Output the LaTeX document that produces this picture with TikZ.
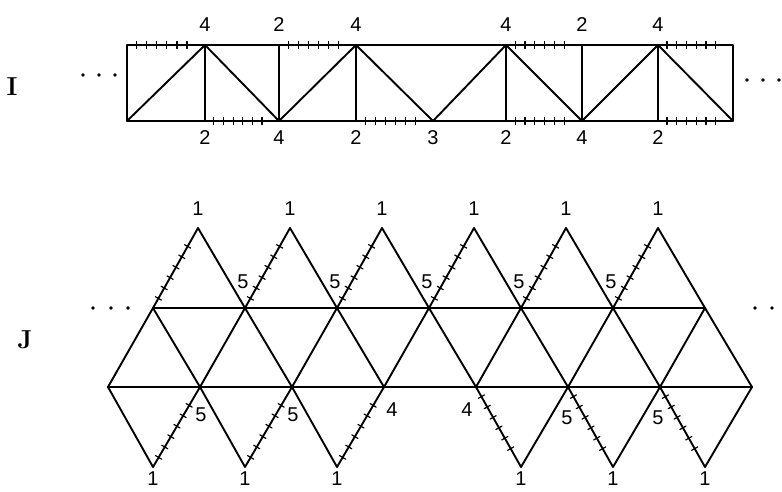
\documentclass[tikz,border=0pt]{standalone}
\usepackage{fontspec}
\setsansfont{Liberation Sans}
\usetikzlibrary{calc,decorations.markings}
\tikzset{
    lab/.style={
        font=\sffamily\fontsize{20}{24}\selectfont, inner sep=0pt
    },
    side/.style={
        font=\bfseries\fontsize{26}{32}\selectfont, inner sep=0pt
    },
    tickedge/.style={
        postaction={decorate},
        decoration={markings,
            mark=between positions 0.12 and 0.9 step 0.13 with
            {\draw[line width=1.2pt] (0,-3.5pt) -- (0,3.5pt);}}
    }
}

\begin{document}
\begin{tikzpicture}[x=1pt,y=-1pt,line width=1.9pt,line cap=round,line join=round]
    \useasboundingbox (0,0) rectangle (782,491);

% --- geometry (pixel grid of the reference) ---
    \def\yT{45}                  % top edge of strip I
    \def\yB{121}                 % bottom edge of strip I
    \def\dJ{92}                  % side of a triangle in J

% strip I: corners of the cells
    \foreach \x [count=\i from 0] in {127,205,279,356,433,506,582,658,733} {
        \coordinate (T\i) at (\x,\yT);
        \coordinate (B\i) at (\x,\yB);
    }

    \draw (T0) rectangle (B8);
    \foreach \i in {1,2,3,5,6,7} \draw (T\i) -- (B\i);
    \draw (B0) -- (T1) -- (B2) -- (T3) -- (B4) -- (T5) -- (B6) -- (T7) -- (B8);

% glued edges of I
    \foreach \a/\b in {T0/T1,T2/T3,T5/T6,T7/T8,B1/B2,B3/B4,B5/B6,B7/B8}
        \path[tickedge] (\a) -- (\b);

% vertex labels of I
    \foreach \i/\t in {1/4,2/2,3/4,5/4,6/2,7/4}
        \node[lab] (top\i) at ($ (T\i) + (0,-20) $) {\t};
    \foreach \i/\t in {1/2,2/4,3/2,4/3,5/2,6/4,7/2}
        \node[lab] (bot\i) at ($ (B\i) + (0,17) $) {\t};

    \node[side] (nameI) at (12,87) {I};
    \foreach \x in {83,99,115} \fill (\x,75) circle (1.8);
    \foreach \x in {747,763,779} \fill (\x,80) circle (1.8);

% strip J: apexes, two rows, feet
    \foreach \k in {0,...,5} \coordinate (A\k) at (198+\dJ*\k,228);
    \foreach \k in {0,...,6} \coordinate (U\k) at (153+\dJ*\k,308);
    \foreach \k in {0,...,7} \coordinate (L\k) at (108+\dJ*\k,387);
    \foreach \k in {0,1,2,4,5,6} \coordinate (D\k) at (153+\dJ*\k,467);

    \draw (U0) -- (U6);
    \draw (L0) -- (L7);
    \foreach \k [count=\n from 1] in {0,...,6} \draw (L\k) -- (U\k) -- (L\n);

% upper triangles (left side glued)
    \foreach \k [count=\n from 1] in {0,...,5} {
        \draw[tickedge] (U\k) -- (A\k);
        \draw (A\k) -- (U\n);
    }

% lower triangles
    \foreach \k [count=\n from 1] in {0,1,2} {
        \draw (L\k) -- (D\k);
        \draw[tickedge] (D\k) -- (L\n);
    }
    \foreach \k [count=\n from 5] in {4,5,6} {
        \draw[tickedge] (L\k) -- (D\k);
        \draw (D\k) -- (L\n);
    }

% vertex labels of J
    \foreach \k in {0,...,5} \node[lab] (apx\k) at ($ (A\k) + (0,-19) $) {1};
    \foreach \k in {0,1,2,4,5,6} \node[lab] (ft\k) at ($ (D\k) + (0,12) $) {1};
    \foreach \k in {1,...,5} \node[lab] (up\k) at ($ (U\k) + (-2,-26) $) {5};
    \node[lab] (lo1) at ($ (L1) + (1,28) $) {5};
    \node[lab] (lo2) at ($ (L2) + (1,28) $) {5};
    \node[lab] (lo3) at ($ (L3) + (8,23) $) {4};
    \node[lab] (lo4) at ($ (L4) + (-9,23) $) {4};
    \node[lab] (lo5) at ($ (L5) + (-1,31) $) {5};
    \node[lab] (lo6) at ($ (L6) + (-2,31) $) {5};

    \node[side] (nameJ) at (25,340) {J};
    \foreach \x in {93,111,128} \fill (\x,308) circle (1.8);
    \foreach \x in {755,772} \fill (\x,308) circle (1.8);

  \end{tikzpicture}
\end{document}
